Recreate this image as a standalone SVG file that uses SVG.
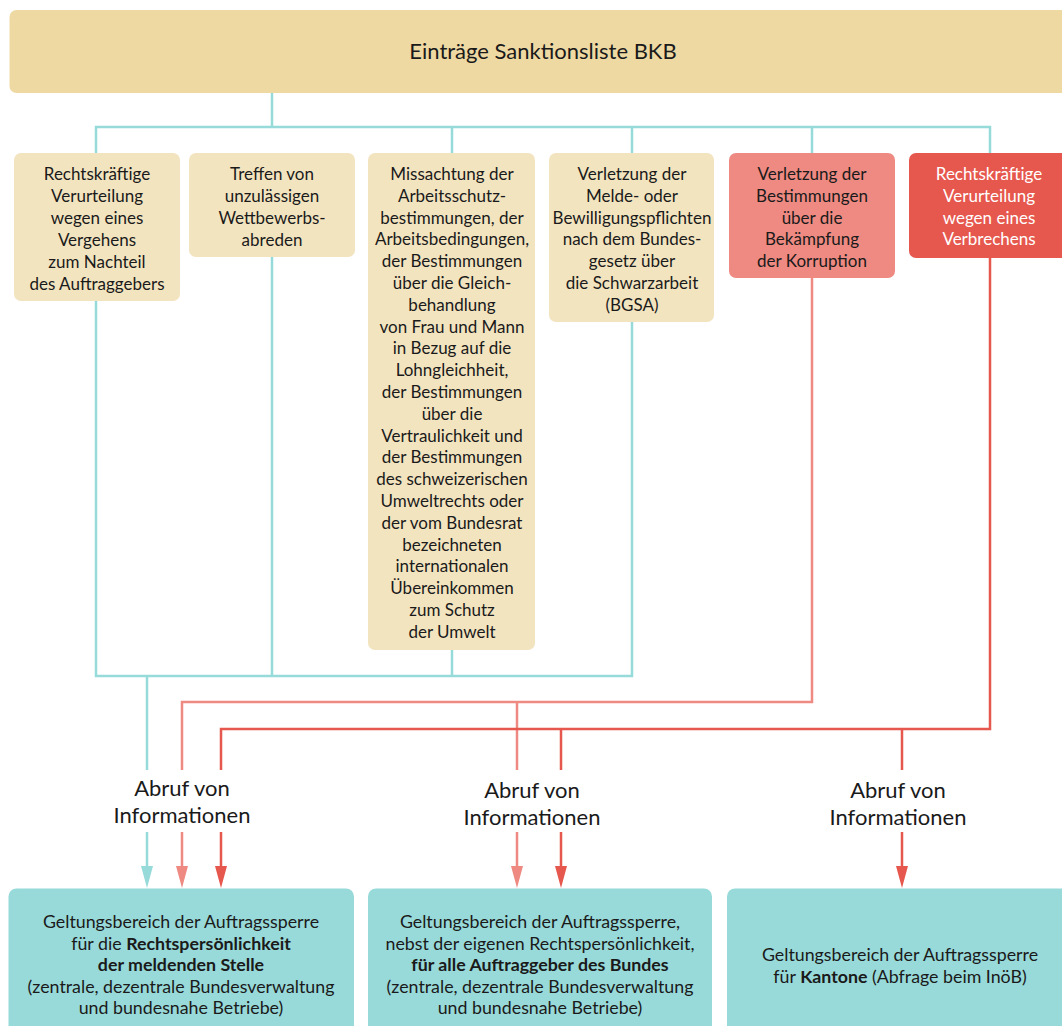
<svg xmlns="http://www.w3.org/2000/svg" width="1062" height="1026" viewBox="0 0 1062 1026">
<defs>
<style>
text{font-family:Lato,"Open Sans","Liberation Sans",sans-serif;fill:#1a1a1a;text-anchor:middle}
.t{font-size:17px}
.s{font-size:17.8px}
.h{font-size:22px}
.l{font-size:22px}
.w{fill:#ffffff}
.b{font-weight:bold}
.teal{stroke:#96DADA;stroke-width:2.5;fill:none}
.pink{stroke:#EE8A82;stroke-width:2.5;fill:none}
.red{stroke:#E6574D;stroke-width:2.5;fill:none}
</style>
</defs>
<rect width="1062" height="1026" fill="#ffffff"/>

<g id="connectors">
<path class="teal" d="M272 93 V127 M96 153 V127 H990 V153 M452 127 V153 M632 127 V153 M812 127 V153"/>
<path class="teal" d="M96 301 V676 H632 V322 M272 257 V676 M452 650 V676 M147 676 V770"/>
<path class="pink" d="M812 278 V702 H182 V770 M517 702 V770"/>
<path class="red" d="M990 258 V729 H221 V770 M561 729 V770 M902 729 V770"/>
<path class="teal" d="M147 832 V866"/>
<path d="M141 866 L153 866 L147 888 Z" fill="#96DADA"/>
<path class="pink" d="M182 832 V866 M517 832 V866"/>
<path d="M176 866 L188 866 L182 888 Z M511 866 L523 866 L517 888 Z" fill="#EE8A82"/>
<path class="red" d="M221 832 V866 M561 832 V866 M902 832 V866"/>
<path d="M215 866 L227 866 L221 888 Z M555 866 L567 866 L561 888 Z M896 866 L908 866 L902 888 Z" fill="#E6574D"/>
</g>

<g id="header">
<rect x="9.5" y="10" width="1070" height="83" rx="7" fill="#EFD9A3"/>
<text class="h" x="543" y="59">Einträge Sanktionsliste BKB</text>
</g>

<g id="n1">
<rect x="14" y="153" width="166" height="148" rx="7" fill="#F3E4C0"/>
<text class="t"><tspan x="97" y="180">Rechtskräftige</tspan><tspan x="97" y="202">Verurteilung</tspan><tspan x="97" y="224">wegen eines</tspan><tspan x="97" y="246">Vergehens</tspan><tspan x="97" y="268">zum Nachteil</tspan><tspan x="97" y="290">des Auftraggebers</tspan></text>
</g>
<g id="n2">
<rect x="189" y="153" width="166" height="104" rx="7" fill="#F3E4C0"/>
<text class="t"><tspan x="272" y="180">Treffen von</tspan><tspan x="272" y="202">unzulässigen</tspan><tspan x="272" y="224">Wettbewerbs-</tspan><tspan x="272" y="246">abreden</tspan></text>
</g>
<g id="n3">
<rect x="368" y="153" width="167" height="497" rx="7" fill="#F3E4C0"/>
<text class="t"><tspan x="452" y="180">Missachtung der</tspan><tspan x="452" y="201.8">Arbeitsschutz-</tspan><tspan x="452" y="223.6">bestimmungen, der</tspan><tspan x="452" y="245.4">Arbeitsbedingungen,</tspan><tspan x="452" y="267.2">der Bestimmungen</tspan><tspan x="452" y="289">über die Gleich-</tspan><tspan x="452" y="310.8">behandlung</tspan><tspan x="452" y="332.6">von Frau und Mann</tspan><tspan x="452" y="354.4">in Bezug auf die</tspan><tspan x="452" y="376.2">Lohngleichheit,</tspan><tspan x="452" y="398">der Bestimmungen</tspan><tspan x="452" y="419.8">über die</tspan><tspan x="452" y="441.6">Vertraulichkeit und</tspan><tspan x="452" y="463.4">der Bestimmungen</tspan><tspan x="452" y="485.2">des schweizerischen</tspan><tspan x="452" y="507">Umweltrechts oder</tspan><tspan x="452" y="528.8">der vom Bundesrat</tspan><tspan x="452" y="550.6">bezeichneten</tspan><tspan x="452" y="572.4">internationalen</tspan><tspan x="452" y="594.2">Übereinkommen</tspan><tspan x="452" y="616">zum Schutz</tspan><tspan x="452" y="637.8">der Umwelt</tspan></text>
</g>
<g id="n4">
<rect x="549" y="153" width="165" height="169" rx="7" fill="#F3E4C0"/>
<text class="t"><tspan x="632" y="180">Verletzung der</tspan><tspan x="632" y="201.8">Melde- oder</tspan><tspan x="632" y="223.6">Bewilligungspflichten</tspan><tspan x="632" y="245.4">nach dem Bundes-</tspan><tspan x="632" y="267.2">gesetz über</tspan><tspan x="632" y="289">die Schwarzarbeit</tspan><tspan x="632" y="310.8">(BGSA)</tspan></text>
</g>
<g id="n5">
<rect x="729" y="153" width="166" height="125" rx="7" fill="#EE8A82"/>
<text class="t"><tspan x="812" y="180">Verletzung der</tspan><tspan x="812" y="201.8">Bestimmungen</tspan><tspan x="812" y="223.6">über die</tspan><tspan x="812" y="245.4">Bekämpfung</tspan><tspan x="812" y="267.2">der Korruption</tspan></text>
</g>
<g id="n6">
<rect x="909" y="153" width="170" height="105" rx="7" fill="#E6574D"/>
<text class="t w"><tspan x="989" y="180">Rechtskräftige</tspan><tspan x="989" y="201.8">Verurteilung</tspan><tspan x="989" y="223.6">wegen eines</tspan><tspan x="989" y="245.4">Verbrechens</tspan></text>
</g>

<g id="label1"><text class="l"><tspan x="182" y="796">Abruf von</tspan><tspan x="182" y="823">Informationen</tspan></text></g>
<g id="label2"><text class="l"><tspan x="532" y="798">Abruf von</tspan><tspan x="532" y="825">Informationen</tspan></text></g>
<g id="label3"><text class="l"><tspan x="898" y="798">Abruf von</tspan><tspan x="898" y="825">Informationen</tspan></text></g>

<g id="b1">
<rect x="8.5" y="888.5" width="345.5" height="150" rx="8" fill="#98D9D9"/>
<text class="s"><tspan x="181" y="928">Geltungsbereich der Auftragssperre</tspan><tspan x="181" y="949.5">für die <tspan class="b">Rechtspersönlichkeit</tspan></tspan><tspan x="181" y="971" class="b">der meldenden Stelle</tspan><tspan x="181" y="992.5">(zentrale, dezentrale Bundesverwaltung</tspan><tspan x="181" y="1014">und bundesnahe Betriebe)</tspan></text>
</g>
<g id="b2">
<rect x="368" y="888.5" width="344" height="150" rx="8" fill="#98D9D9"/>
<text class="s"><tspan x="540" y="928">Geltungsbereich der Auftragssperre,</tspan><tspan x="540" y="949.5">nebst der eigenen Rechtspersönlichkeit,</tspan><tspan x="540" y="971" class="b">für alle Auftraggeber des Bundes</tspan><tspan x="540" y="992.5">(zentrale, dezentrale Bundesverwaltung</tspan><tspan x="540" y="1014">und bundesnahe Betriebe)</tspan></text>
</g>
<g id="b3">
<rect x="727" y="888.5" width="350" height="150" rx="8" fill="#98D9D9"/>
<text class="s"><tspan x="900" y="961">Geltungsbereich der Auftragssperre</tspan><tspan x="900" y="982.5">für <tspan class="b">Kantone</tspan> (Abfrage beim InöB)</tspan></text>
</g>
</svg>
